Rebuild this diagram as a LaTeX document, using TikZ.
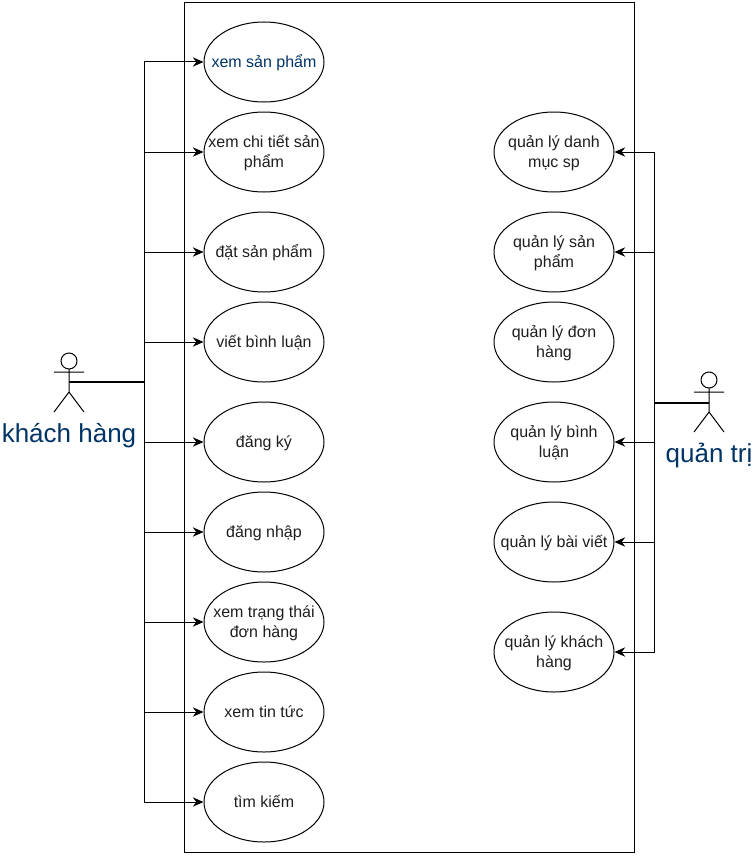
\documentclass[tikz,border=0pt]{standalone}
\usepackage{fontspec}
\setmainfont{Liberation Sans}
\usetikzlibrary{shapes.geometric}
\usetikzlibrary{arrows.meta, positioning}
\definecolor{actorBlue}{RGB}{0, 51, 102}
\definecolor{lineGrey}{RGB}{30, 30, 30}
\tikzset{
    usecase/.style={ellipse, draw=black, line width=0.75pt, minimum width=90pt, minimum height=60pt, inner xsep=-36pt, inner ysep=0pt, text height=11.5pt, text depth=3pt, align=center, text=lineGrey, font=\fontsize{12}{15}\selectfont},
    two lines/.style={text height=26.5pt},
    link/.style={draw=black, line width=0.75pt, -{Stealth[length=8pt, width=7pt]}},
    plain link/.style={draw=black, line width=0.95pt},
    actor label/.style={text=actorBlue, inner sep=0pt, font=\fontsize{19.5}{24}\selectfont}
}
\begin{document}
\begin{tikzpicture}[x=0.75pt, y=-0.75pt]
    \useasboundingbox (0,0) rectangle (755,856);

    % Draw the rectangle to represent the system
    \draw[line width=0.75pt] (184,2.5) rectangle (634,852);

    % Use cases of the customer
    \node[usecase, text=actorBlue] (xemSp) at (264,62) {xem sản phẩm};
    \node[usecase, two lines] (chiTiet) at (264,152) {xem chi tiết sản\\phẩm};
    \node[usecase] (datSp) at (264,252) {đặt sản phẩm};
    \node[usecase] (binhLuan) at (264,342) {viết bình luận};
    \node[usecase] (dangKy) at (264,442) {đăng ký};
    \node[usecase] (dangNhap) at (264,532) {đăng nhập};
    \node[usecase, two lines] (trangThai) at (264,622) {xem trạng thái\\đơn hàng};
    \node[usecase] (tinTuc) at (264,712) {xem tin tức};
    \node[usecase] (timKiem) at (264,802) {tìm kiếm};

    % Use cases of the admin
    \node[usecase, two lines] (qlDanhMuc) at (554,152) {quản lý danh\\mục sp};
    \node[usecase, two lines] (qlSp) at (554,252) {quản lý sản\\phẩm};
    \node[usecase, two lines] (qlDonHang) at (554,342) {quản lý đơn\\hàng};
    \node[usecase, two lines] (qlBinhLuan) at (554,442) {quản lý bình\\luận};
    \node[usecase] (qlBaiViet) at (554,542) {quản lý bài viết};
    \node[usecase, two lines] (qlKhachHang) at (554,652) {quản lý khách\\hàng};

    % Stick figures
    \coordinate (khachHang) at (69,382);
    \draw[line width=0.75pt] (69,361) circle (8) (69,369) -- (69,392) (54,372) -- (84,372)
        (54,412) -- (69,392) -- (84,412);
    \node[actor label] (khachHangText) at (69,436) {khách hàng};

    \coordinate (quanTri) at (709,403);
    \draw[line width=0.75pt] (709,380) circle (8) (709,388) -- (709,412) (694,392) -- (724,392)
        (694,432) -- (709,412) -- (724,432);
    \node[actor label] (quanTriText) at (709,456) {quản trị};

    % Left trunk and its branches
    \coordinate (leftBus) at (144,382);
    \draw[plain link] (khachHang) -- (leftBus);
    \draw[link] (leftBus) |- (xemSp);
    \draw[link] (leftBus) |- (chiTiet);
    \draw[link] (leftBus) |- (datSp);
    \draw[link] (leftBus) |- (binhLuan);
    \draw[link] (leftBus) |- (dangKy);
    \draw[link] (leftBus) |- (dangNhap);
    \draw[link] (leftBus) |- (trangThai);
    \draw[link] (leftBus) |- (tinTuc);
    \draw[link] (leftBus) |- (timKiem);

    % Right trunk and its branches
    \coordinate (rightBus) at (654,403);
    \draw[plain link] (quanTri) -- (rightBus);
    \draw[link] (rightBus) |- (qlDanhMuc);
    \draw[link] (rightBus) |- (qlSp);
    \draw[link] (rightBus) |- (qlBinhLuan);
    \draw[link] (rightBus) |- (qlBaiViet);
    \draw[link] (rightBus) |- (qlKhachHang);
\end{tikzpicture}
\end{document}
